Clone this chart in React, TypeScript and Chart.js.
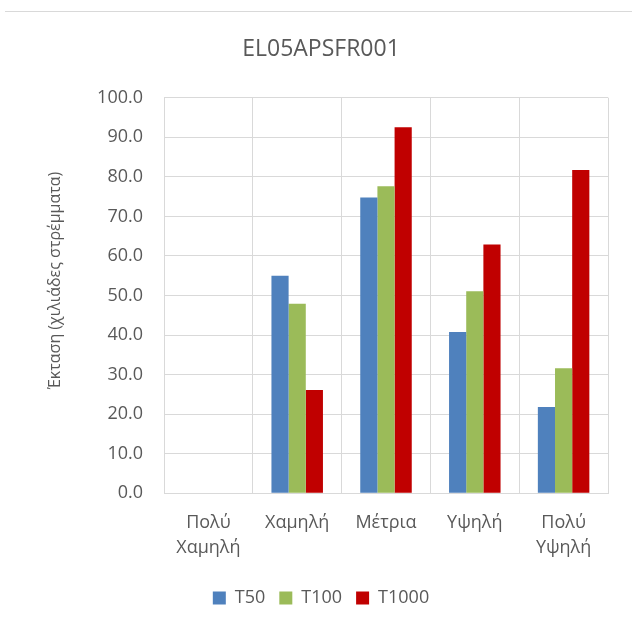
import React, { useEffect, useRef } from "react";
import { Chart, registerables } from "chart.js";

Chart.register(...registerables);

const categories: (string | string[])[] = [["Πολύ", "Χαμηλή"], "Χαμηλή", "Μέτρια", "Υψηλή", ["Πολύ", "Υψηλή"]];
const seriesNames = ["T50", "T100", "T1000"];
const t50 = [0, 55.0, 74.8, 40.8, 21.8];
const t100 = [0, 47.9, 77.6, 51.1, 31.6];
const t1000 = [0, 26.1, 92.5, 62.9, 81.7];
const seriesColors = ["#4F81BD", "#9BBB59", "#C00000"];
const chartTitle = "EL05APSFR001";
const yAxisTitle = "Έκταση (χιλιάδες στρέμματα)";
const yMin = 0;
const yMax = 100;
const yStep = 10;

const FONT = "'Open Sans', 'Noto Sans', sans-serif";
const TEXT = "#595959";
const GRID = "#d9d9d9";

const yTitlePlugin = {
  id: "yTitlePlugin",
  afterDraw(chart: any) {
    const { ctx, chartArea } = chart;
    ctx.save();
    ctx.translate(55, (chartArea.top + chartArea.bottom) / 2 - 15);
    ctx.rotate(-Math.PI / 2);
    ctx.font = `16px ${FONT}`;
    ctx.fillStyle = TEXT;
    ctx.textAlign = "center";
    ctx.textBaseline = "middle";
    ctx.fillText(yAxisTitle, 0, 0);
    ctx.restore();
  },
};

export default function App() {
  const canvasRef = useRef<HTMLCanvasElement | null>(null);

  useEffect(() => {
    if (!canvasRef.current) return;
    const values = [t50, t100, t1000];
    const chart = new Chart(canvasRef.current, {
      type: "bar",
      data: {
        labels: categories,
        datasets: seriesNames.map((name, i) => ({
          label: name,
          data: values[i],
          backgroundColor: seriesColors[i],
          borderWidth: 0,
          categoryPercentage: 0.58,
          barPercentage: 1.0,
        })),
      },
      options: {
        responsive: false,
        animation: false,
        layout: { padding: { left: 34, right: 24, top: 0, bottom: 11 } },
        plugins: {
          title: {
            display: true,
            text: chartTitle,
            color: TEXT,
            font: { family: FONT, size: 23, weight: "normal" as any, lineHeight: 1.2 },
            padding: { top: 35.5, bottom: 34.6 },
          },
          legend: {
            position: "bottom",
            labels: {
              color: TEXT,
              font: { family: FONT, size: 18 },
              boxWidth: 13,
              boxHeight: 13,
              padding: 14,
            },
          },
          tooltip: { enabled: false },
        },
        scales: {
          x: {
            grid: { color: GRID, lineWidth: 1, drawTicks: false, offset: true },
            border: { color: GRID },
            ticks: {
              color: TEXT,
              font: { family: FONT, size: 18, lineHeight: 1.4 },
              padding: 17,
              maxRotation: 0,
              autoSkip: false,
            },
            afterFit(scale: any) {
              scale.height = 81.7;
            },
          },
          y: {
            min: yMin,
            max: yMax,
            grid: { color: GRID, lineWidth: 1, drawTicks: false },
            border: { display: false },
            ticks: {
              stepSize: yStep,
              color: TEXT,
              font: { family: FONT, size: 18 },
              padding: 21,
              callback: (v: any) => Number(v).toFixed(1),
            },
            afterFit(scale: any) {
              scale.width = 130;
            },
          },
        },
      },
      plugins: [yTitlePlugin],
    });
    return () => chart.destroy();
  }, []);

  return (
    <div style={{ position: "fixed", left: 0, top: 0, width: 632, height: 628, background: "#fff" }}>
      <div style={{ position: "absolute", left: 5, top: 11, right: 0, borderTop: `1px solid ${GRID}` }} />
      <canvas ref={canvasRef} width={632} height={628} style={{ position: "absolute", left: 0, top: 0 }} />
    </div>
  );
}
